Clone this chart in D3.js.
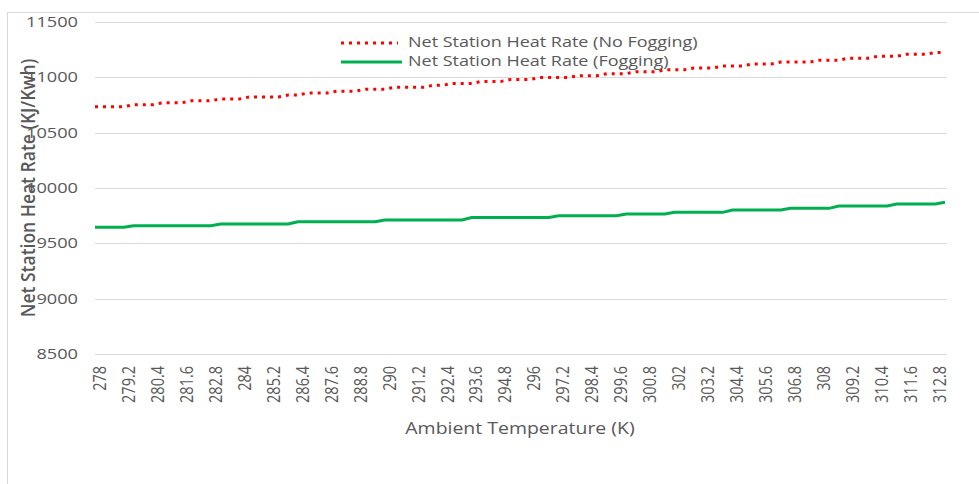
<!DOCTYPE html>
<html>
<head>
<meta charset="utf-8">
<script src="https://cdn.jsdelivr.net/npm/d3@7"></script>
<style>
  html, body { margin: 0; padding: 0; background: #fff; }
  svg { display: block; }
  text { font-family: "Open Sans", "Noto Sans", sans-serif; fill: #595959; }
</style>
</head>
<body>
<svg id="chart" width="979" height="484"></svg>
<script>
// ambient temperature categories (K)
const categories = [
  "278", "278.4", "278.8", "279.2", "279.6", "280", "280.4", "280.8", "281.2", "281.6",
  "282", "282.4", "282.8", "283.2", "283.6", "284", "284.4", "284.8", "285.2", "285.6",
  "286", "286.4", "286.8", "287.2", "287.6", "288", "288.4", "288.8", "289.2", "289.6",
  "290", "290.4", "290.8", "291.2", "291.6", "292", "292.4", "292.8", "293.2", "293.6",
  "294", "294.4", "294.8", "295.2", "295.6", "296", "296.4", "296.8", "297.2", "297.6",
  "298", "298.4", "298.8", "299.2", "299.6", "300", "300.4", "300.8", "301.2", "301.6",
  "302", "302.4", "302.8", "303.2", "303.6", "304", "304.4", "304.8", "305.2", "305.6",
  "306", "306.4", "306.8", "307.2", "307.6", "308", "308.4", "308.8", "309.2", "309.6",
  "310", "310.4", "310.8", "311.2", "311.6", "312", "312.4", "312.8", "313.2"
];

// Net Station Heat Rate (No Fogging), KJ/Kwh
const noFogging = [
  10735, 10735, 10735, 10735,
  10753, 10753, 10753,
  10770, 10770, 10770,
  10788, 10788, 10788,
  10805, 10805, 10805,
  10823, 10823, 10823, 10823,
  10840, 10840,
  10858, 10858, 10858,
  10875, 10875, 10875,
  10893, 10893, 10893,
  10910, 10910, 10910, 10910,
  10928, 10928,
  10945, 10945, 10945,
  10963, 10963, 10963,
  10980, 10980, 10980,
  10998, 10998, 10998, 10998,
  11015, 11015, 11015,
  11033, 11033, 11033,
  11050, 11050, 11050,
  11068, 11068, 11068,
  11085, 11085, 11085,
  11103, 11103, 11103,
  11120, 11120, 11120,
  11138, 11138, 11138, 11138,
  11155, 11155, 11155,
  11173, 11173, 11173,
  11190, 11190, 11190,
  11208, 11208, 11208,
  11225, 11225
];

// Net Station Heat Rate (Fogging), KJ/Kwh
const fogging = [
  9645, 9645, 9645, 9645,
  9659, 9659, 9659, 9659, 9659, 9659, 9659, 9659, 9659,
  9675, 9675, 9675, 9675, 9675, 9675, 9675, 9675,
  9695, 9695, 9695, 9695, 9695, 9695, 9695, 9695, 9695,
  9711, 9711, 9711, 9711, 9711, 9711, 9711, 9711, 9711,
  9733, 9733, 9733, 9733, 9733, 9733, 9733, 9733, 9733,
  9750, 9750, 9750, 9750, 9750, 9750, 9750,
  9765, 9765, 9765, 9765, 9765,
  9780, 9780, 9780, 9780, 9780, 9780,
  9801, 9801, 9801, 9801, 9801, 9801,
  9816, 9816, 9816, 9816, 9816,
  9837, 9837, 9837, 9837, 9837, 9837,
  9855, 9855, 9855, 9855, 9855,
  9871
];

const yTicks = [8500, 9000, 9500, 10000, 10500, 11000, 11500];

const seriesNames = ["Net Station Heat Rate (No Fogging)", "Net Station Heat Rate (Fogging)"];

const svg = d3.select("#chart");

// chart frame
svg.append("rect")
  .attr("x", 7.5).attr("y", 12.5)
  .attr("width", 1000).attr("height", 500)
  .attr("fill", "#fff")
  .attr("stroke", "#d9d9d9");

const x = d3.scalePoint().domain(categories).range([95, 945]);
const y = d3.scaleLinear().domain([8500, 11500]).range([354, 22]);

// gridlines
svg.append("g")
  .selectAll("line")
  .data(yTicks)
  .enter()
  .append("line")
  .attr("x1", 95).attr("x2", 947)
  .attr("y1", d => Math.round(y(d)) + 0.5)
  .attr("y2", d => Math.round(y(d)) + 0.5)
  .attr("stroke", "#d9d9d9")
  .attr("stroke-width", 1.2);

// y tick labels (stretched a bit like the source)
svg.append("g")
  .selectAll("text")
  .data(yTicks)
  .enter()
  .append("text")
  .attr("transform", d => "translate(78," + y(d) + ") scale(1.3,1)")
  .attr("dy", "0.36em")
  .attr("text-anchor", "end")
  .style("font-size", "14px")
  .text(d => d);

// x axis labels, every third category
const xAxis = d3.axisBottom(x)
  .tickValues(categories.filter((d, i) => i % 3 === 0))
  .tickSize(0)
  .tickPadding(0);

const gx = svg.append("g")
  .attr("transform", "translate(0,354)")
  .call(xAxis);
gx.select(".domain").remove();
gx.selectAll("text")
  .attr("transform", "translate(4,12) rotate(-90) scale(1,1.2)")
  .attr("x", 0).attr("y", 0)
  .attr("dy", "0.36em")
  .attr("text-anchor", "end")
  .style("font-family", "\"Open Sans\", sans-serif")
  .style("font-size", "14.5px")
  .style("fill", "#595959");

// lines
const line = d3.line()
  .x((d, i) => x(categories[i]))
  .y(d => y(d));

svg.append("path")
  .datum(fogging)
  .attr("d", line)
  .attr("fill", "none")
  .attr("stroke", "#00b050")
  .attr("stroke-width", 3);

svg.append("path")
  .datum(noFogging)
  .attr("d", line)
  .attr("fill", "none")
  .attr("stroke", "#ff0000")
  .attr("stroke-width", 3)
  .attr("stroke-dasharray", "3,5");

// axis titles
svg.append("text")
  .attr("transform", "translate(520,434) scale(1.18,1)")
  .attr("text-anchor", "middle")
  .style("font-size", "16.5px")
  .text("Ambient Temperature (K)");

svg.append("text")
  .attr("transform", "translate(35,188) rotate(-90) scale(1,1.15)")
  .attr("text-anchor", "middle")
  .style("font-size", "17.5px")
  .style("font-weight", 600)
  .text("Net Station Heat Rate (KJ/Kwh)");

// legend
const legend = svg.append("g");
legend.append("line")
  .attr("x1", 341).attr("x2", 398)
  .attr("y1", 43).attr("y2", 43)
  .attr("stroke", "#ff0000")
  .attr("stroke-width", 3)
  .attr("stroke-dasharray", "3,5");
legend.append("line")
  .attr("x1", 341).attr("x2", 402)
  .attr("y1", 62).attr("y2", 62)
  .attr("stroke", "#00b050")
  .attr("stroke-width", 3);
legend.selectAll("text.lg")
  .data(seriesNames)
  .enter()
  .append("text")
  .attr("class", "lg")
  .attr("transform", (d, i) => "translate(408," + (42 + i * 19) + ") scale(1.2,1)")
  .attr("dy", "0.36em")
  .style("font-size", "15px")
  .text(d => d);
</script>
</body>
</html>
